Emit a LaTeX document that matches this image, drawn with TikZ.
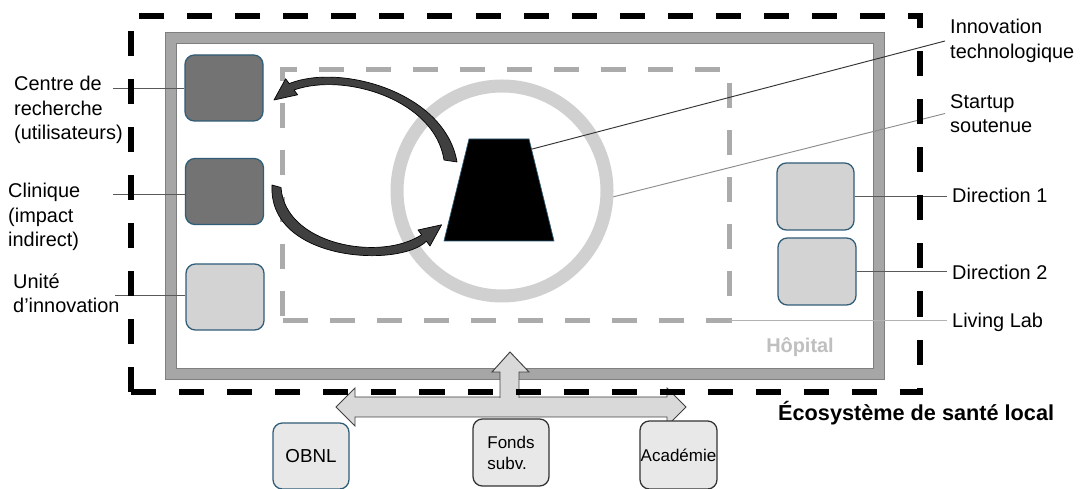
\documentclass[tikz,border=0pt]{standalone}
\usepackage{fontspec}
\setmainfont{Liberation Sans}
\usetikzlibrary{calc}

\definecolor{framegray}{HTML}{A6A6A6}
\definecolor{frameedge}{HTML}{7F7F7F}
\definecolor{labgray}{HTML}{ABABAB}
\definecolor{ringgray}{HTML}{D0D0D0}
\definecolor{boxdark}{HTML}{737373}
\definecolor{boxlight}{HTML}{D3D3D3}
\definecolor{boxedge}{HTML}{2F5D78}
\definecolor{extfill}{HTML}{E8E8E8}
\definecolor{hopgray}{HTML}{BFBFBF}
\definecolor{arrfill}{HTML}{D9D9D9}
\definecolor{curvfill}{HTML}{404040}

\tikzset{
  unit/.style={rectangle, rounded corners=8pt, draw=boxedge, line width=1.1pt,
    minimum width=2.34cm, minimum height=1.98cm, inner sep=0},
  darkunit/.style={unit, fill=boxdark},
  lightunit/.style={unit, fill=boxlight},
  partner/.style={unit, fill=extfill},
  callout/.style={anchor=west, align=left, inner ysep=0, inner xsep=0.15cm,
    font=\fontsize{17}{20.9}\selectfont},
  leader/.style={draw=black!65, line width=0.8pt},
  curvy/.style={fill=curvfill, draw=black, line width=0.6pt, line join=round},
  flow/.style={fill=arrfill, draw=black!75, line width=0.8pt},
}

\begin{document}
\begin{tikzpicture}[x=0.03cm, y=-0.03cm]
    \useasboundingbox (0,0) rectangle (1083,489);

    % hopital et living lab
    \node[draw=frameedge, double=framegray, double distance=0.31cm, line width=0.7pt, fill=white,
          minimum width=21.24cm, minimum height=10.08cm, inner sep=0] (hop) at (525,206) {};
    \node[draw=labgray, line width=0.15cm, dash pattern=on 0.75cm off 0.66cm, outer sep=0,
          minimum width=13.38cm, minimum height=7.5cm, inner sep=0] (lab) at (506,195) {};
    \node[circle, draw=ringgray, line width=0.39cm, minimum size=6.3cm, inner sep=0] (startup) at (502,191) {};

    \coordinate (tbl) at (444,241);
    \coordinate (ttl) at (469,139);
    \coordinate (ttr) at (529,139);
    \coordinate (tbr) at (554,241);
    \filldraw[fill=black, draw=boxedge, line width=0.6pt] (tbl) -- (ttl) -- (ttr) -- (tbr) -- cycle;

    \node[darkunit]  (crc)  at (224,88)    {};
    \node[darkunit]  (clin) at (224.5,191.5) {};
    \node[lightunit] (uinn) at (225,297)   {};
    \node[lightunit, minimum width=2.31cm, minimum height=2.01cm] (dir1) at (815.5,196.5) {};
    \node[lightunit, minimum height=2.01cm] (dir2) at (817,271.5) {};

    % fleches courbes
    \filldraw[curvy] (457,162) .. controls (445,92) and (340,63) .. (289.2,83.6) -- (285.6,78.8) -- (274,100)
          -- (297.6,94.8) -- (294,90) .. controls (345,72) and (435,100) .. (444,160) -- cycle;
    \filldraw[curvy] (272,185) -- (281,187.5) .. controls (285,245) and (380,262) .. (421.6,234.8) -- (418,230)
          -- (441.6,224.8) -- (430,246) -- (426.4,241.2) .. controls (400,268) and (268,262) .. (272,185) -- cycle;

    \node[callout] (lcrc)   at (9,110)     {Centre de\\recherche\\(utilisateurs)};
    \node[callout] (lclin)  at (3,217)     {Clinique\\(impact\\indirect)};
    \node[callout] (luinn)  at (8,293.5)   {Unité\\d’innovation};
    \node[callout] (linno)  at (945,41)    {Innovation\\technologique};
    \node[callout] (lstart) at (945,113.5) {Startup\\soutenue};
    \node[callout] (ldir1)  at (947,195)   {Direction 1};
    \node[callout] (ldir2)  at (947,272)   {Direction 2};
    \node[callout] (llab)   at (947,322)   {Living Lab};

    \coordinate (pcrc)  at (113,88);
    \coordinate (pclin) at (113,194);
    \coordinate (puinn) at (115,295);
    \path [leader] (pcrc) edge (crc.west);
    \path [leader] (pclin) edge (pclin -| clin.west);
    \path [leader] (puinn) edge (puinn -| uinn.west);
    \path [leader, draw=black!80] ($(ttr)!0.1!(tbr)$) edge (linno.west);
    \path [leader, draw=black!45] (startup.-3) edge (lstart.west);
    \path [leader] (dir1.east) edge (dir1.east -| ldir1.west);
    \path [leader] (dir2.east) edge (dir2.east -| ldir2.west);
    \path [leader, draw=black!30] (lab.south east) edge (lab.south east -| llab.west);

    \node[font=\bfseries\fontsize{17}{20}\selectfont, text=hopgray] (hoptxt) at (800,347) {Hôpital};

    % liens externes
    \filldraw[flow] (336,407) -- (355,388) -- (355,397) -- (667,397) -- (667,388) -- (686,407)
          -- (667,426) -- (667,417) -- (355,417) -- (355,426) -- cycle;
    \filldraw[flow] (500,398) -- (500,372) -- (492,372) -- (510,352) -- (529,372) -- (519,372) -- (519,398);

    \node[draw=black, line width=0.18cm, dash pattern=on 0.75cm off 0.69cm, minimum width=23.655cm,
          minimum height=11.28cm, inner sep=0] (eco) at (525.75,204) {};
    \node[anchor=west, inner sep=0, font=\bfseries\fontsize{18.5}{22}\selectfont] (ecotxt) at (778,413) {Écosystème de santé local};

    \node[partner, minimum width=2.28cm, font=\fontsize{16}{19}\selectfont] (obnl) at (311,456) {OBNL};
    \node[partner, draw=black!80, minimum width=2.28cm, minimum height=2.01cm, align=left,
          font=\fontsize{14.5}{18}\selectfont] (fonds) at (511,452.5) {Fonds\\subv.};
    \node[partner, draw=black!80, minimum width=2.31cm, minimum height=2.04cm,
          font=\fontsize{14.5}{18}\selectfont] (acad) at (678.5,455) {Académie};
\end{tikzpicture}
\end{document}
